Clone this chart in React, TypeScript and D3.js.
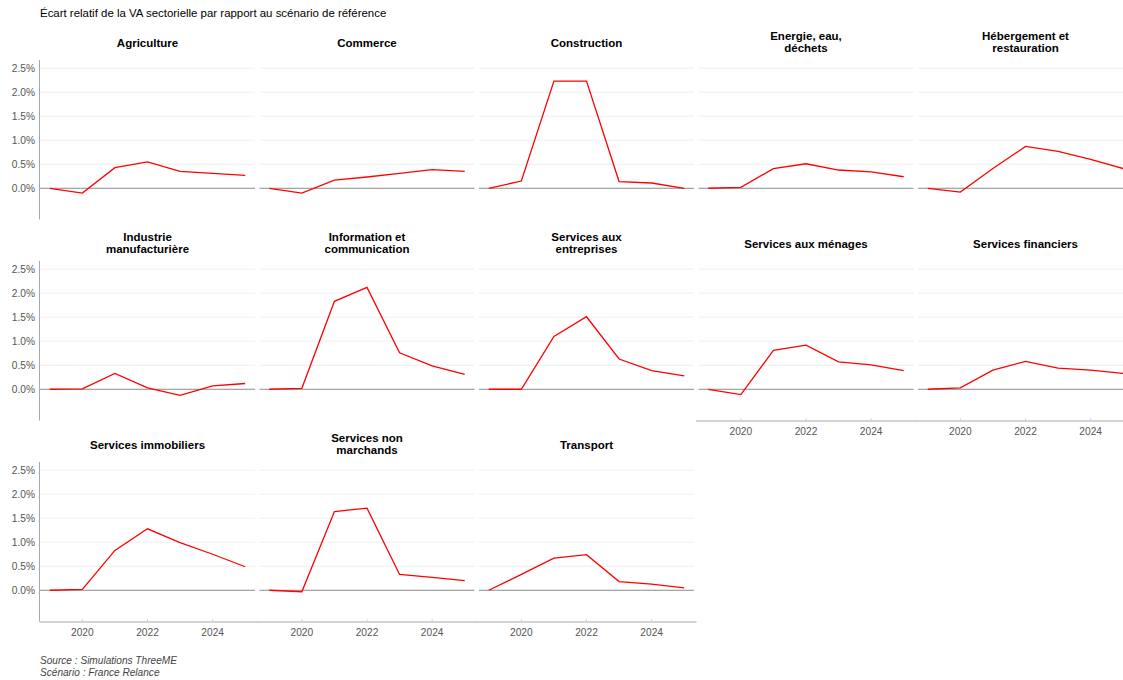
import React from "react";
import * as d3 from "d3";

const years = [2019, 2020, 2021, 2022, 2023, 2024, 2025];
const sectors = [
  "Agriculture",
  "Commerce",
  "Construction",
  "Energie, eau,\ndéchets",
  "Hébergement et\nrestauration",
  "Industrie\nmanufacturière",
  "Information et\ncommunication",
  "Services aux\nentreprises",
  "Services aux ménages",
  "Services financiers",
  "Services immobiliers",
  "Services non\nmarchands",
  "Transport",
];
const agriculture = [0, -0.1, 0.43, 0.55, 0.35, 0.31, 0.27];
const commerce = [0, -0.1, 0.17, 0.235, 0.31, 0.39, 0.35];
const construction = [0, 0.15, 2.23, 2.23, 0.14, 0.11, 0.0];
const energie = [0, 0.02, 0.41, 0.51, 0.38, 0.34, 0.24];
const hebergement = [0, -0.08, 0.41, 0.87, 0.77, 0.6, 0.41];
const industrie = [0, 0.01, 0.33, 0.03, -0.125, 0.07, 0.12];
const information = [0, 0.02, 1.83, 2.12, 0.76, 0.485, 0.31];
const servEntreprises = [0, 0, 1.1, 1.51, 0.63, 0.39, 0.28];
const servMenages = [0, -0.11, 0.81, 0.92, 0.57, 0.51, 0.39];
const servFinanciers = [0, 0.03, 0.4, 0.58, 0.44, 0.4, 0.33];
const servImmobiliers = [0, 0.02, 0.83, 1.28, 0.99, 0.75, 0.49];
const servNonMarchands = [0, -0.03, 1.64, 1.71, 0.33, 0.27, 0.2];
const transport = [0, 0.33, 0.67, 0.74, 0.18, 0.13, 0.05];
const seriesValues = [
  agriculture, commerce, construction, energie, hebergement,
  industrie, information, servEntreprises, servMenages, servFinanciers,
  servImmobiliers, servNonMarchands, transport,
];
const yTicks = [0, 0.5, 1, 1.5, 2, 2.5];
const xTicks = [2020, 2022, 2024];
const title = "Écart relatif de la VA sectorielle par rapport au scénario de référence";
const captionLines = ["Source : Simulations ThreeME", "Scénario : France Relance"];

const W = 1123;
const H = 680;
const NCOL = 5;
const left0 = 40;
const colStep = 219.5;
const panelW = 215;
const top0 = 60;
const rowStep = 201;
const panelH = 159.5;
const font = "'Liberation Sans', Arial, sans-serif";

export default function App() {
  const x = d3.scaleLinear().domain([2019 - 0.3, 2025 + 0.3]).range([0, panelW]);
  const y = d3.scaleLinear().domain([-0.65, 2.67]).range([panelH, 0]);
  const line = d3
    .line<number>()
    .x((_, i) => x(years[i]))
    .y((d) => y(d));
  const n = sectors.length;

  return (
    <svg
      width={W}
      height={H}
      style={{ position: "absolute", left: 0, top: 0, fontFamily: font }}
    >
      <rect width={W} height={H} fill="#fff" />
      <text x={40} y={13} dy="0.35em" fontSize={11.45} fill="#000">
        {title}
      </text>
      {sectors.map((name, idx) => {
        const col = idx % NCOL;
        const row = Math.floor(idx / NCOL);
        const px = left0 + col * colStep;
        const py = top0 + row * rowStep;
        const lines = name.split("\n");
        const isBottom = idx + NCOL >= n;
        const stripCenter = lines.length > 1 ? -18 : -17;
        return (
          <g key={name} transform={`translate(${px},${py})`}>
            {lines.map((l, li) => (
              <text
                key={li}
                x={panelW / 2}
                y={stripCenter + (li - (lines.length - 1) / 2) * 12}
                dy="0.35em"
                textAnchor="middle"
                fontSize={11.5}
                fontWeight="bold"
                fill="#000"
              >
                {l}
              </text>
            ))}
            {yTicks.map((t) => (
              <line
                key={t}
                x1={0}
                x2={panelW}
                y1={y(t)}
                y2={y(t)}
                stroke={t === 0 ? "#8c8c8c" : "#ebebeb"}
                strokeWidth={t === 0 ? 1 : 0.8}
              />
            ))}
            <path
              d={line(seriesValues[idx]) || ""}
              fill="none"
              stroke="#ff0000"
              strokeWidth={1.3}
            />
            {col === 0 && (
              <g>
                <line x1={-0.5} x2={-0.5} y1={0} y2={panelH} stroke="#a8a8a8" strokeWidth={1} />
                {yTicks.map((t) => (
                  <text
                    key={t}
                    x={-5}
                    y={y(t)}
                    dy="0.35em"
                    textAnchor="end"
                    fontSize={10.2}
                    fill="#555"
                  >
                    {d3.format(".1f")(t) + "%"}
                  </text>
                ))}
              </g>
            )}
            {isBottom && (
              <g>
                <line x1={col === 0 ? -0.5 : -2.5} x2={panelW + 2.5} y1={panelH + 0.5} y2={panelH + 0.5} stroke="#a8a8a8" strokeWidth={1} />
                {xTicks.map((t) => (
                  <g key={t}>
                    <line x1={x(t)} x2={x(t)} y1={panelH - 2} y2={panelH} stroke="#c8c8c8" />
                    <text
                      x={x(t)}
                      y={panelH + 11}
                      dy="0.35em"
                      textAnchor="middle"
                      fontSize={10.2}
                      fill="#555"
                    >
                      {t}
                    </text>
                  </g>
                ))}
              </g>
            )}
          </g>
        );
      })}
      {captionLines.map((c, i) => (
        <text
          key={i}
          x={40}
          y={660 + i * 12}
          dy="0.35em"
          fontSize={10.1}
          fontStyle="italic"
          fill="#444"
        >
          {c}
        </text>
      ))}
    </svg>
  );
}
